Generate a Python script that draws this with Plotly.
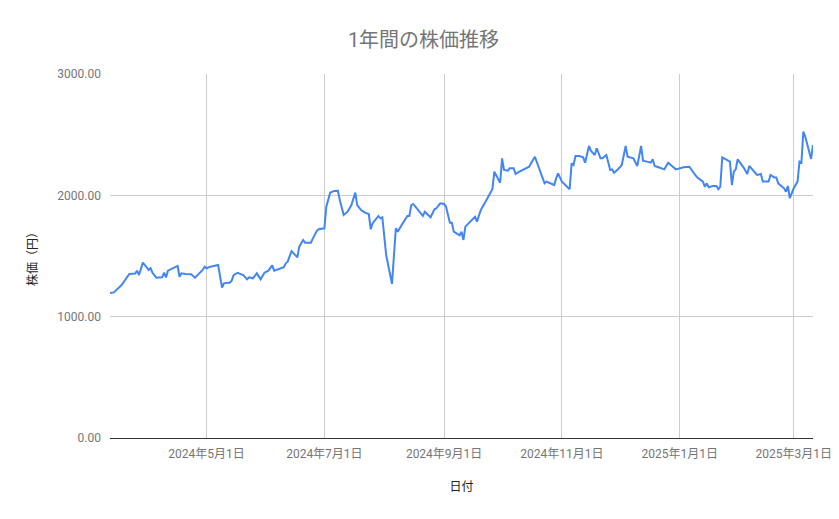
import plotly.graph_objects as go

# 日付と終値(チャートから読み取り)
dates = [
    "2024-03-12", "2024-03-14", "2024-03-18", "2024-03-21", "2024-03-22", "2024-03-25",
    "2024-03-26", "2024-03-27", "2024-03-29", "2024-03-31", "2024-04-01", "2024-04-02",
    "2024-04-03", "2024-04-05", "2024-04-08", "2024-04-09", "2024-04-10", "2024-04-11",
    "2024-04-15", "2024-04-16", "2024-04-17", "2024-04-18", "2024-04-20", "2024-04-23",
    "2024-04-25", "2024-04-29", "2024-04-30", "2024-05-01", "2024-05-03", "2024-05-07",
    "2024-05-09", "2024-05-10", "2024-05-12", "2024-05-13", "2024-05-14", "2024-05-15",
    "2024-05-17", "2024-05-20", "2024-05-22", "2024-05-23", "2024-05-25", "2024-05-27",
    "2024-05-29", "2024-05-31", "2024-06-02", "2024-06-04", "2024-06-05", "2024-06-07",
    "2024-06-10", "2024-06-11", "2024-06-12", "2024-06-14", "2024-06-17", "2024-06-18",
    "2024-06-20", "2024-06-21", "2024-06-24", "2024-06-25", "2024-06-27", "2024-06-28",
    "2024-07-01", "2024-07-02", "2024-07-04", "2024-07-06", "2024-07-08", "2024-07-09",
    "2024-07-11", "2024-07-13", "2024-07-15", "2024-07-17", "2024-07-18", "2024-07-20",
    "2024-07-22", "2024-07-24", "2024-07-25", "2024-07-26", "2024-07-29", "2024-07-30",
    "2024-07-31", "2024-08-02", "2024-08-05", "2024-08-07", "2024-08-08", "2024-08-10",
    "2024-08-13", "2024-08-14", "2024-08-15", "2024-08-16", "2024-08-19", "2024-08-21",
    "2024-08-22", "2024-08-25", "2024-08-27", "2024-08-28", "2024-08-30", "2024-09-01",
    "2024-09-02", "2024-09-04", "2024-09-05", "2024-09-06", "2024-09-08", "2024-09-09",
    "2024-09-10", "2024-09-11", "2024-09-12", "2024-09-14", "2024-09-17", "2024-09-18",
    "2024-09-20", "2024-09-22", "2024-09-24", "2024-09-26", "2024-09-27", "2024-09-29",
    "2024-09-30", "2024-10-01", "2024-10-02", "2024-10-04", "2024-10-05", "2024-10-07",
    "2024-10-08", "2024-10-10", "2024-10-12", "2024-10-15", "2024-10-18", "2024-10-20",
    "2024-10-23", "2024-10-24", "2024-10-26", "2024-10-28", "2024-10-29", "2024-10-30",
    "2024-11-01", "2024-11-05", "2024-11-06", "2024-11-07", "2024-11-08", "2024-11-10",
    "2024-11-12", "2024-11-13", "2024-11-15", "2024-11-16", "2024-11-18", "2024-11-19",
    "2024-11-21", "2024-11-22", "2024-11-24", "2024-11-26", "2024-11-27", "2024-11-28",
    "2024-11-30", "2024-12-02", "2024-12-04", "2024-12-05", "2024-12-08", "2024-12-10",
    "2024-12-12", "2024-12-13", "2024-12-15", "2024-12-17", "2024-12-18", "2024-12-19",
    "2024-12-21", "2024-12-24", "2024-12-26", "2024-12-30", "2025-01-03", "2025-01-06",
    "2025-01-09", "2025-01-10", "2025-01-13", "2025-01-14", "2025-01-15", "2025-01-16",
    "2025-01-18", "2025-01-20", "2025-01-21", "2025-01-22", "2025-01-23", "2025-01-25",
    "2025-01-27", "2025-01-28", "2025-01-29", "2025-01-30", "2025-01-31", "2025-02-03",
    "2025-02-05", "2025-02-06", "2025-02-08", "2025-02-10", "2025-02-12", "2025-02-13",
    "2025-02-16", "2025-02-17", "2025-02-19", "2025-02-20", "2025-02-21", "2025-02-24",
    "2025-02-25", "2025-02-26", "2025-02-27", "2025-03-01", "2025-03-03", "2025-03-04",
    "2025-03-05", "2025-03-06", "2025-03-07", "2025-03-10", "2025-03-11",
]
prices = [
    1195, 1200, 1261, 1329, 1352, 1355,
    1379, 1343, 1445, 1407, 1385, 1399,
    1362, 1321, 1324, 1362, 1324, 1379,
    1412, 1418, 1329, 1357, 1352, 1349,
    1321, 1385, 1412, 1399, 1412, 1426,
    1240, 1275, 1280, 1280, 1297, 1343,
    1362, 1343, 1308, 1324, 1316, 1357,
    1308, 1362, 1379, 1423, 1379, 1390,
    1407, 1440, 1453, 1541, 1489, 1577,
    1632, 1610, 1610, 1643, 1706, 1720,
    1728, 1906, 2022, 2036, 2038, 1960,
    1838, 1865, 1920, 2022, 1920, 1879,
    1857, 1846, 1720, 1770, 1830, 1811,
    1819, 1508, 1270, 1728, 1700, 1756,
    1830, 1830, 1920, 1929, 1874, 1830,
    1865, 1819, 1885, 1893, 1934, 1929,
    1906, 1775, 1775, 1700, 1681, 1670,
    1700, 1632, 1742, 1775, 1824, 1783,
    1879, 1934, 1989, 2050, 2195, 2126,
    2104, 2305, 2209, 2203, 2223, 2223,
    2176, 2195, 2209, 2236, 2318, 2236,
    2099, 2113, 2099, 2085, 2140, 2181,
    2113, 2050, 2264, 2250, 2324, 2324,
    2313, 2269, 2407, 2368, 2332, 2388,
    2305, 2305, 2332, 2209, 2214, 2187,
    2214, 2250, 2407, 2318, 2305, 2242,
    2407, 2286, 2278, 2269, 2297, 2242,
    2231, 2214, 2269, 2214, 2231, 2236,
    2168, 2148, 2113, 2071, 2099, 2066,
    2077, 2077, 2050, 2071, 2313, 2297,
    2278, 2085, 2195, 2214, 2297, 2231,
    2176, 2242, 2203, 2168, 2176, 2113,
    2113, 2168, 2148, 2148, 2099, 2058,
    2030, 2077, 1976, 2058, 2113, 2278,
    2269, 2525, 2483, 2300, 2415,
]

tick_dates = ["2024-05-01", "2024-07-01", "2024-09-01", "2024-11-01", "2025-01-01", "2025-03-01"]
tick_labels = ["2024年5月1日", "2024年7月1日", "2024年9月1日", "2024年11月1日", "2025年1月1日", "2025年3月1日"]
y_ticks = [0, 1000, 2000, 3000]

font_family = "Roboto, 'Noto Sans CJK JP', sans-serif"

fig = go.Figure()
fig.add_trace(
    go.Scatter(
        x=dates,
        y=prices,
        mode="lines",
        line=dict(color="#4285f4", width=2),
        showlegend=False,
    )
)

# the page body has an 8px margin, so the figure is a bit smaller than the window
fig.update_layout(
    width=831,
    height=511,
    paper_bgcolor="white",
    plot_bgcolor="white",
    font=dict(family=font_family, color="#757575", size=12),
    title=dict(
        text="1年間の株価推移",
        x=0.5,
        xanchor="center",
        y=0.937,
        yanchor="middle",
        font=dict(size=20, color="#757575"),
    ),
    margin=dict(l=102, r=26, t=66, b=81),
    xaxis=dict(
        range=[dates[0], dates[-1]],
        tickvals=tick_dates,
        ticktext=tick_labels,
        automargin=False,
        showgrid=True,
        gridcolor="#cccccc",
        gridwidth=1,
        showline=False,
        zeroline=False,
        ticks="",
        ticklabelstandoff=7,
        tickfont=dict(size=12, color="#757575"),
        title=dict(text="日付", font=dict(size=12, color="#222222"), standoff=22),
    ),
    yaxis=dict(
        range=[0, 3000],
        tickvals=y_ticks,
        tickformat=".2f",
        automargin=False,
        showgrid=True,
        gridcolor="#cccccc",
        gridwidth=1,
        zeroline=True,
        zerolinecolor="#333333",
        zerolinewidth=1,
        ticks="",
        ticklabelstandoff=8,
        tickfont=dict(size=12, color="#757575"),
        title=dict(text="株価（円）", font=dict(size=12, color="#222222"), standoff=17),
    ),
)

fig.write_html("out.html")
